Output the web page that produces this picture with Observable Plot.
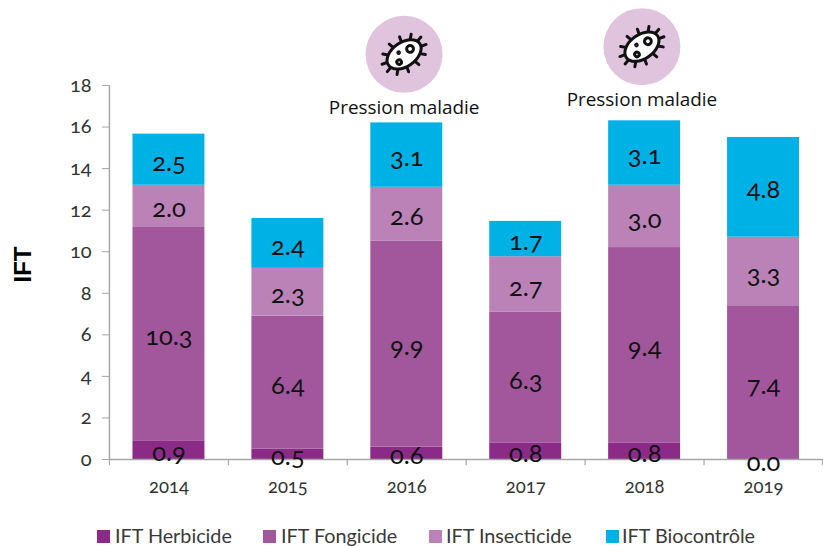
<!DOCTYPE html>
<html lang="fr">
<head>
<meta charset="utf-8">
<script src="https://cdn.jsdelivr.net/npm/d3@7"></script>
<script src="https://cdn.jsdelivr.net/npm/@observablehq/plot@0.6"></script>
<style>
  html, body { margin: 0; background: #fff; }
  #wrap { position: relative; width: 823px; height: 546px; overflow: hidden; }
  #chart svg { display: block; overflow: visible; }
  .legend { position: absolute; top: 523px; left: 0; width: 823px; height: 23px; font: 19.8px Lato, sans-serif; color: #3a3a3a; }
  .legend span.t { position: absolute; top: 0; white-space: nowrap; }
  .legend span.s { position: absolute; top: 7px; width: 13px; height: 13px; }
  .old { font-variant-numeric: oldstyle-nums; font-feature-settings: "onum" 1; }
</style>
</head>
<body>
<div id="wrap">
  <div id="chart"></div>
  <div class="legend" id="legend"></div>
</div>
<script>
const years = ["2014", "2015", "2016", "2017", "2018", "2019"];
const herbicide = [0.9, 0.5, 0.6, 0.8, 0.8, 0.0];
const fongicide = [10.3, 6.4, 9.9, 6.3, 9.4, 7.4];
const insecticide = [2.0, 2.3, 2.6, 2.66, 3.0, 3.3];
const biocontrole = [2.46, 2.4, 3.1, 1.7, 3.1, 4.8];
const seriesNames = ["IFT Herbicide", "IFT Fongicide", "IFT Insecticide", "IFT Biocontrôle"];
const seriesColors = ["#8b2a87", "#a2569c", "#bb82b8", "#00b1e6"];
const yTicks = [0, 2, 4, 6, 8, 10, 12, 14, 16, 18];
const pressureYears = ["2016", "2018"];
const pressureIconY = [19.5, 19.87];
const pressureTextY = [16.9, 17.3];

const seriesValues = [herbicide, fongicide, insecticide, biocontrole];
const rows = seriesNames.flatMap((s, i) =>
  years.map((year, j) => ({year, series: s, value: seriesValues[i][j]})));
const pressure = pressureYears.map((year, i) => ({
  year, icon: pressureIconY[i], label: pressureTextY[i]
}));

const spikes = d3.range(12).map(i => {
  const a = (i + 0.5) / 12 * 2 * Math.PI, c = Math.cos(a), s = Math.sin(a);
  const p = r => [c * (r + 19), s * (r + 12)];
  const [x1, y1] = p(0), [x2, y2] = p(5.5);
  return `<line x1="${x1.toFixed(1)}" y1="${y1.toFixed(1)}" x2="${x2.toFixed(1)}" y2="${y2.toFixed(1)}"/>`;
}).join("");
const glyph = `<svg xmlns="http://www.w3.org/2000/svg" viewBox="-30 -30 60 60"><g transform="rotate(-35)" fill="none" stroke="#111" stroke-width="3" stroke-linecap="round">${spikes}<ellipse rx="19" ry="12" fill="#fff"/><circle cx="8" cy="-1" r="3.4"/><circle cx="-8.5" cy="3.5" r="2.3"/><circle cx="-3.5" cy="-4.5" r="0.8" fill="#111"/></g></svg>`;
const glyphUrl = "data:image/svg+xml," + encodeURIComponent(glyph);

const plot = Plot.plot({
  width: 823,
  height: 515,
  marginLeft: 109,
  marginRight: 0.5,
  marginTop: 85,
  marginBottom: 56,
  style: {background: "transparent", overflow: "visible"},
  x: {domain: years, paddingInner: 0.395, paddingOuter: 0.1975, round: false, label: null},
  y: {domain: [0, 18], label: null},
  color: {domain: seriesNames, range: seriesColors},
  marks: [
    Plot.barY(rows, {x: "year", y: "value", z: "series", order: seriesNames, fill: "series"}),
    Plot.ruleY([0], {stroke: "#a6a6a6", strokeWidth: 1.5}),
    Plot.ruleX([years[0]], {x: d => d, y1: 0, y2: 18, dx: -59.5, stroke: "#a6a6a6", strokeWidth: 1.5}),
    Plot.ruleX(years, {x: d => d, y1: 0, y2: -0.3, dx: -59.5, stroke: "#a6a6a6", strokeWidth: 1.2}),
    Plot.ruleX([years[5]], {x: d => d, y1: 0, y2: -0.3, dx: 59, stroke: "#a6a6a6", strokeWidth: 1.2}),
    Plot.axisY({ticks: yTicks, tickSize: 7, tickPadding: 11, stroke: "#a6a6a6", fill: "#333", label: null, fontSize: 20, fontFamily: "Lato, sans-serif", className: "old", anchor: "left"}),
    Plot.axisX({tickSize: 0, tickPadding: 20, fill: "#333", label: null, fontSize: 18.5, fontFamily: "Lato, sans-serif", className: "old"}),
    Plot.text(["IFT"], {frameAnchor: "left", text: d => d, rotate: -90, dx: -86, dy: 10, fontWeight: "bold", fontSize: 24, fontFamily: "Liberation Sans", fill: "#000"}),
    Plot.text(rows, Plot.stackY({x: "year", y: "value", z: "series", order: seriesNames, text: d => d.value.toFixed(1), dy: 3, fill: "#111", fontSize: 25.5, fontFamily: "Lato, sans-serif", className: "old"})),
    Plot.dot(pressure, {x: "year", y: "icon", r: 38.5, dx: -2.7, fill: "#e0c3dd"}),
    Plot.image(pressure, {x: "year", y: "icon", src: () => glyphUrl, width: 60, height: 60, dx: -2.7}),
    Plot.text(pressure, {x: "year", y: "label", text: () => "Pression maladie", dx: -2.7, fill: "#111", fontSize: 18.9, fontFamily: "Open Sans, sans-serif"})
  ]
});
document.getElementById("chart").append(plot);

const legendText = [115, 281, 446, 622];
const legendSwatch = [97, 263, 429, 606];
const legend = document.getElementById("legend");
seriesNames.forEach((name, i) => {
  const s = document.createElement("span");
  s.className = "s"; s.style.left = legendSwatch[i] + "px"; s.style.background = seriesColors[i];
  const t = document.createElement("span");
  t.className = "t"; t.style.left = legendText[i] + "px"; t.textContent = name;
  legend.append(s, t);
});
</script>
</body>
</html>
